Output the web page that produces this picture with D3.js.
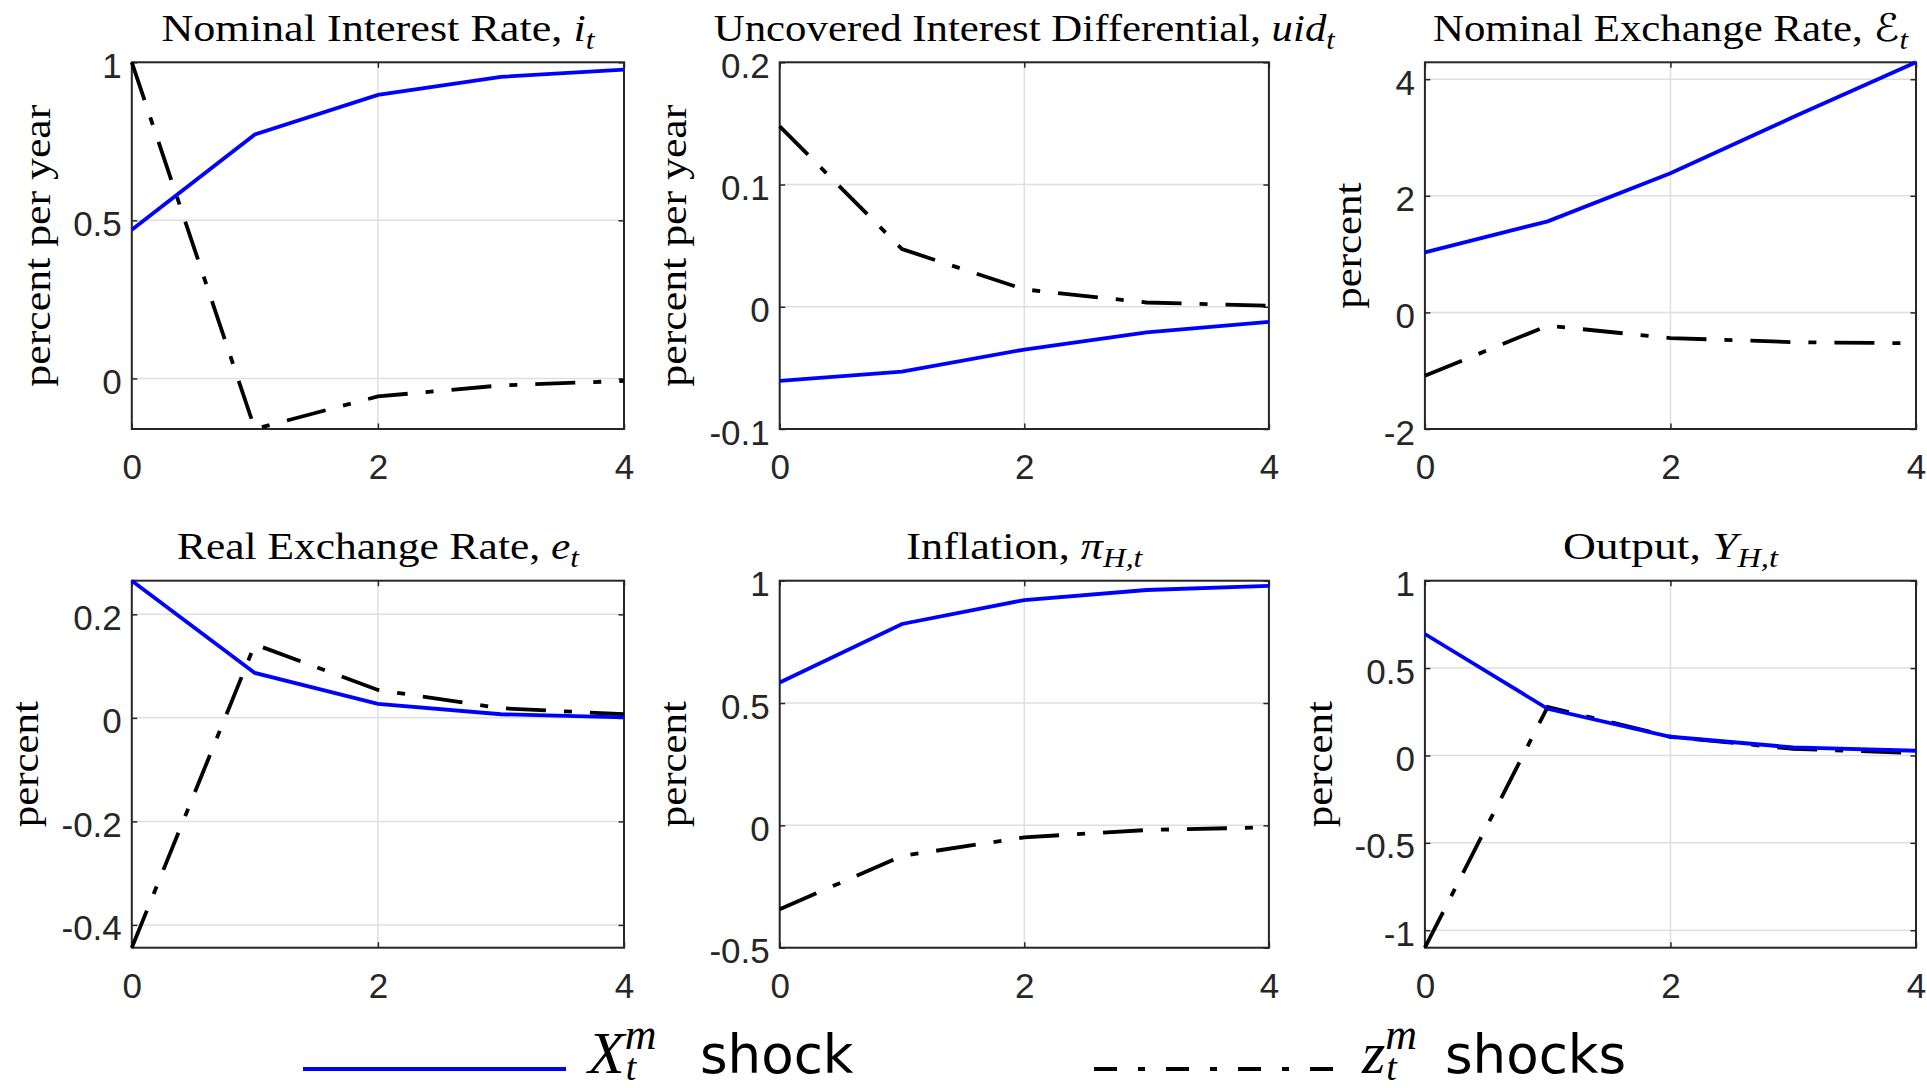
<!DOCTYPE html>
<html>
<head>
<meta charset="utf-8">
<script src="https://cdn.jsdelivr.net/npm/d3@7"></script>
<style>
  body { margin: 0; background: #fff; }
  svg { display: block; }
</style>
</head>
<body>
<div id="chart"></div>
<script>
const W = 1927, H = 1088;

// data
const periods = [0, 1, 2, 3, 4];
const xTicks = [0, 2, 4];

const titles = [
  ["Nominal Interest Rate, ", "i", "t"],
  ["Uncovered Interest Differential, ", "uid", "t"],
  ["Nominal Exchange Rate, ", "\u2130", "t"],
  ["Real Exchange Rate, ", "e", "t"],
  ["Inflation, ", "\u03c0", "H,t"],
  ["Output, ", "Y", "H,t"]
];
const yLabels = ["percent per year", "percent per year", "percent", "percent", "percent", "percent"];

// X^m_t shock (blue, solid)
const xmShock = [
  [0.47, 0.772, 0.897, 0.954, 0.977],
  [-0.0606, -0.053, -0.035, -0.021, -0.0123],
  [1.03, 1.562, 2.386, 3.35, 4.29],
  [0.265, 0.0868, 0.027, 0.007, 0.001],
  [0.584, 0.823, 0.921, 0.962, 0.979],
  [0.695, 0.267, 0.107, 0.046, 0.027]
];
// z^m_t shocks (black, dash-dot)
const zmShocks = [
  [1.0, -0.16, -0.057, -0.022, -0.008],
  [0.1476, 0.0472, 0.0142, 0.0035, 0.0008],
  [-1.087, -0.228, -0.44, -0.51, -0.53],
  [-0.444, 0.142, 0.054, 0.0187, 0.007],
  [-0.343, -0.125, -0.049, -0.019, -0.008],
  [-1.10, 0.278, 0.107, 0.038, 0.014]
];

const yTicks = [
  [0, 0.5, 1],
  [-0.1, 0, 0.1, 0.2],
  [-2, 0, 2, 4],
  [-0.4, -0.2, 0, 0.2],
  [-0.5, 0, 0.5, 1],
  [-1, -0.5, 0, 0.5, 1]
];
const yDomains = [
  [-0.16, 1],
  [-0.1, 0.2],
  [-2, 4.29],
  [-0.444, 0.265],
  [-0.5, 1],
  [-1.10, 1]
];

// layout
const cols = [[131.8, 624], [779.7, 1268.9], [1424.9, 1916]];
const rows = [[62.3, 429], [580.7, 947.7]];
const titleWidths = [433, 621, 475, 402, 236, 215];
const yLabelLen = { "percent per year": 282, "percent": 126 };

const serif = "'Liberation Serif', 'DejaVu Serif', serif";
const sans = "'Liberation Sans', Arial, sans-serif";
const boxColor = "#262626";
const gridColor = "#dfdfdf";

const svg = d3.select("#chart")
  .append("svg")
  .attr("width", W)
  .attr("height", H);

const fmt = d => String(d);

titles.forEach((tt, i) => {
  const [l, r] = cols[i % 3];
  const [t, b] = rows[Math.floor(i / 3)];

  const x = d3.scaleLinear().domain([0, 4]).range([l, r]);
  const y = d3.scaleLinear().domain(yDomains[i]).range([b, t]);

  const g = svg.append("g").attr("class", "panel");

  // grid
  g.selectAll(".gx").data(xTicks).enter()
    .append("line")
    .attr("x1", d => x(d)).attr("x2", d => x(d))
    .attr("y1", t).attr("y2", b)
    .attr("stroke", gridColor).attr("stroke-width", 1.5);
  g.selectAll(".gy").data(yTicks[i]).enter()
    .append("line")
    .attr("x1", l).attr("x2", r)
    .attr("y1", d => y(d)).attr("y2", d => y(d))
    .attr("stroke", gridColor).attr("stroke-width", 1.5);

  // axes (ticks point inward, like matlab)
  const bottom = g.append("g")
    .attr("transform", `translate(0, ${b})`)
    .call(d3.axisBottom(x).tickValues(xTicks).tickFormat(fmt)
      .tickSizeInner(-5.5).tickSizeOuter(0).tickPadding(25));
  const top = g.append("g")
    .attr("transform", `translate(0, ${t})`)
    .call(d3.axisTop(x).tickValues(xTicks).tickFormat("")
      .tickSizeInner(-5.5).tickSizeOuter(0));
  const left = g.append("g")
    .attr("transform", `translate(${l}, 0)`)
    .call(d3.axisLeft(y).tickValues(yTicks[i]).tickFormat(fmt)
      .tickSizeInner(-5.5).tickSizeOuter(0).tickPadding(10));
  const right = g.append("g")
    .attr("transform", `translate(${r}, 0)`)
    .call(d3.axisRight(y).tickValues(yTicks[i]).tickFormat("")
      .tickSizeInner(-5.5).tickSizeOuter(0));

  [bottom, top, left, right].forEach(a => {
    a.select(".domain").remove();
    a.selectAll(".tick line").attr("stroke", boxColor).attr("stroke-width", 1.5);
    a.selectAll("text")
      .attr("fill", boxColor)
      .attr("font-family", sans)
      .attr("font-size", 35);
  });
  left.selectAll("text").attr("dy", "0.43em");

  // box
  g.append("rect")
    .attr("x", l).attr("y", t)
    .attr("width", r - l).attr("height", b - t)
    .attr("fill", "none")
    .attr("stroke", boxColor)
    .attr("stroke-width", 2);

  const line = d3.line().x((d, k) => x(periods[k])).y(d => y(d));

  g.append("path")
    .datum(zmShocks[i])
    .attr("d", line)
    .attr("fill", "none")
    .attr("stroke", "#000")
    .attr("stroke-width", 3.8)
    .attr("stroke-dasharray", "40,18,8,18");

  g.append("path")
    .datum(xmShock[i])
    .attr("d", line)
    .attr("fill", "none")
    .attr("stroke", "#0000ff")
    .attr("stroke-width", 3.8);

  // title
  const title = g.append("text")
    .attr("x", (l + r) / 2)
    .attr("y", t - 21.6)
    .attr("text-anchor", "middle")
    .attr("font-family", serif)
    .attr("font-size", 38)
    .attr("fill", "#000")
    .attr("textLength", titleWidths[i])
    .attr("lengthAdjust", "spacingAndGlyphs");
  title.append("tspan").text(tt[0]);
  title.append("tspan").attr("font-style", "italic")
    .attr("font-family", tt[1] === "\u2130" ? "'DejaVu Serif', 'DejaVu Sans', serif" : serif)
    .text(tt[1]);
  title.append("tspan").attr("font-style", "italic")
    .attr("font-size", 27).attr("dy", 8).text(tt[2]);

  // y label, placed left of the widest tick label
  let minX = Infinity;
  left.selectAll("text").each(function () {
    const bb = this.getBBox();
    minX = Math.min(minX, l + bb.x);
  });
  g.append("text")
    .attr("transform", `translate(${minX - 23}, ${(t + b) / 2}) rotate(-90)`)
    .attr("text-anchor", "middle")
    .attr("font-family", serif)
    .attr("font-size", 38)
    .attr("fill", "#000")
    .attr("textLength", yLabelLen[yLabels[i]])
    .attr("lengthAdjust", "spacingAndGlyphs")
    .text(yLabels[i]);
});

// legend
const legendY = 1069;
const legend = svg.append("g").attr("class", "legend");
const legendItems = [
  { x1: 303, x2: 566, color: "#0000ff", dash: null, v: "X", vx: 588, tx: 700, label: "shock" },
  { x1: 1094, x2: 1340, color: "#000", dash: "23,21,7,21", v: "z", vx: 1362, tx: 1445, label: "shocks" }
];
legendItems.forEach(it => {
  legend.append("line")
    .attr("x1", it.x1).attr("x2", it.x2)
    .attr("y1", legendY).attr("y2", legendY)
    .attr("stroke", it.color)
    .attr("stroke-width", 4)
    .attr("stroke-dasharray", it.dash);
  // variable with stacked super/subscript, all in one text
  const v = legend.append("text")
    .attr("x", it.vx).attr("y", legendY + 4)
    .attr("font-family", serif)
    .attr("font-style", "italic")
    .attr("font-size", 60);
  const base = v.append("tspan").text(it.v);
  const vx2 = it.vx + base.node().getComputedTextLength() + 1;
  v.append("tspan").attr("dy", -24).attr("font-size", 44).text("m");
  v.append("tspan").attr("x", vx2).attr("dy", 31).attr("font-size", 38).text("t");
  legend.append("text")
    .attr("x", it.tx).attr("y", legendY + 4)
    .attr("font-family", "'DejaVu Sans', sans-serif")
    .attr("font-size", 53)
    .text(it.label);
});
</script>
</body>
</html>
